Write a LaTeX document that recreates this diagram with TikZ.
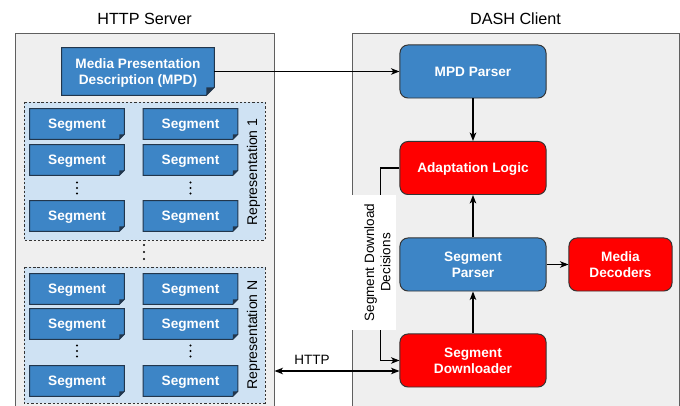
\documentclass[tikz,border=0pt]{standalone}
\usepackage{fontspec}
\setmainfont{Liberation Sans}
\usetikzlibrary{arrows.meta}

\definecolor{dashblue}{HTML}{3D85C6}
\definecolor{dashred}{HTML}{FF0000}
\definecolor{repfill}{HTML}{CFE2F3}
\definecolor{boxfill}{HTML}{EFEFEF}
\definecolor{boxline}{HTML}{5F5F5F}
\definecolor{docline}{HTML}{22364C}
\definecolor{unitline}{HTML}{333333}

\pgfdeclarelayer{back}
\pgfdeclarelayer{docs}
\pgfsetlayers{back,docs,main}

\tikzset{
  title/.style={font=\fontsize{11.5}{13}\selectfont},
  segtext/.style={minimum width=2.35cm, minimum height=0.75cm, inner sep=0pt, text depth=0pt,
    text=white, font=\fontsize{9.7}{11.5}\selectfont\bfseries},
  mpdtext/.style={segtext, minimum width=3.8cm, minimum height=1.175cm, align=center},
  docshape/.style={fill=dashblue, draw=docline, line width=0.7pt},
  fold/.style={fill=docline},
  repbox/.style={fill=repfill, draw=black!80, line width=0.6pt, dash pattern=on 1.6pt off 1.4pt},
  replabel/.style={rotate=90, font=\fontsize{10}{12}\selectfont},
  unit/.style={rounded corners=0.2cm, draw=unitline, line width=0.7pt,
    minimum width=3.65cm, minimum height=1.325cm, inner sep=1pt, text depth=0pt, text=white,
    align=center, font=\fontsize{9.7}{11.6}\selectfont\bfseries},
  blueunit/.style={unit, fill=dashblue},
  redunit/.style={unit, fill=dashred},
  link/.style={line width=0.85pt, -{Stealth[length=6pt,width=4.6pt,inset=1.6pt]}},
  twoway/.style={line width=0.85pt, {Stealth[length=6pt,width=4.6pt,inset=1.6pt]}-{Stealth[length=6pt,width=4.6pt,inset=1.6pt]}},
  declabel/.style={rotate=90, align=center, font=\fontsize{9.6}{11.5}\selectfont}
}

\begin{document}
\begin{tikzpicture}[x=0.025cm, y=-0.025cm]
  \useasboundingbox (0,0) rectangle (680,406);

  % server and client
  \begin{pgfonlayer}{back}
    \fill[boxfill] (15,33) rectangle (274,412);
    \draw[boxline, line width=0.7pt] (15,412) -- (15,33) -- (274,33) -- (274,412);
    \fill[boxfill] (352,33) rectangle (679,412);
    \draw[boxline, line width=0.7pt] (352,412) -- (352,33) -- (679,33) -- (679,412);
    \draw[repbox] (24,102) rectangle (265,240);
    \draw[repbox] (24,267) rectangle (265,403);
  \end{pgfonlayer}

  \node[title] (server) at (144.5,19) {HTTP Server};
  \node[title] (client) at (515.5,19) {DASH Client};

  % documents on the server
  \node[mpdtext] (mpd) at (138,71.5) {Media Presentation\\Description (MPD)};
  \foreach \c/\x in {a/77,b/190.5}
    \foreach \r/\y in {1/124,2/160,3/216,4/289,5/324,6/381}
      \node[segtext] (seg\c\r) at (\x,\y) {Segment};

  \begin{pgfonlayer}{docs}
    \path[docshape] (mpd.north west) -- (mpd.north east) -- ([yshift=0.2cm]mpd.south east)
      -- ([xshift=-0.2cm]mpd.south east) -- (mpd.south west) -- cycle;
    \fill[fold] ([xshift=-0.2cm]mpd.south east) -- ([xshift=-0.2cm,yshift=0.2cm]mpd.south east)
      -- ([yshift=0.2cm]mpd.south east) -- cycle;
    \foreach \n in {a1,a2,a3,a4,a5,a6,b1,b2,b3,b4,b5,b6} {
      \path[docshape] (seg\n.north west) -- (seg\n.north east) -- ([yshift=0.125cm]seg\n.south east)
        -- ([xshift=-0.125cm]seg\n.south east) -- (seg\n.south west) -- cycle;
      \fill[fold] ([xshift=-0.125cm]seg\n.south east) -- ([xshift=-0.125cm,yshift=0.125cm]seg\n.south east)
        -- ([yshift=0.125cm]seg\n.south east) -- cycle;
    }
  \end{pgfonlayer}

  \foreach \x/\y in {77/188,190.5/188,77/351,190.5/351}
    \foreach \d in {-5.5,0,5.5}
      \fill (\x,\y+\d) circle (0.75pt);
  \foreach \d in {-7,0,7}
    \fill (144,252+\d) circle (0.75pt);

  \node[replabel] (rep1) at (253.5,172) {Representation 1};
  \node[replabel] (repN) at (253.5,335) {Representation N};

  % client units
  \node[blueunit] (mpdparser) at (473,71.5) {MPD Parser};
  \node[redunit] (adapt) at (473,168) {Adaptation Logic};
  \node[blueunit] (segparser) at (473,264.5) {Segment\\Parser};
  \node[redunit, minimum width=2.575cm] (decoders) at (620.5,264.5) {Media\\Decoders};
  \node[redunit] (downloader) at (473,360.5) {Segment\\Downloader};

  \draw[link] (mpd.east) -- (mpdparser.west);
  \draw[link] (mpdparser) -- (adapt);
  \draw[link] (segparser) -- (adapt);
  \draw[link] (downloader) -- (segparser);
  \draw[link] (segparser) -- (decoders);
  \draw[link] (adapt.west) -- ++(-19,0) |- (downloader.west);

  \coordinate (srv) at (274.5,371);
  \draw[twoway] (srv) -- node[pos=0.3, above=1pt, font=\fontsize{9.6}{11.5}\selectfont] (http) {HTTP}
    (downloader.west |- srv);

  \fill[white] (351.5,195) rectangle (396,330);
  \node[declabel] (decisions) at (377.5,262.5) {Segment Download\\Decisions};
\end{tikzpicture}
\end{document}
